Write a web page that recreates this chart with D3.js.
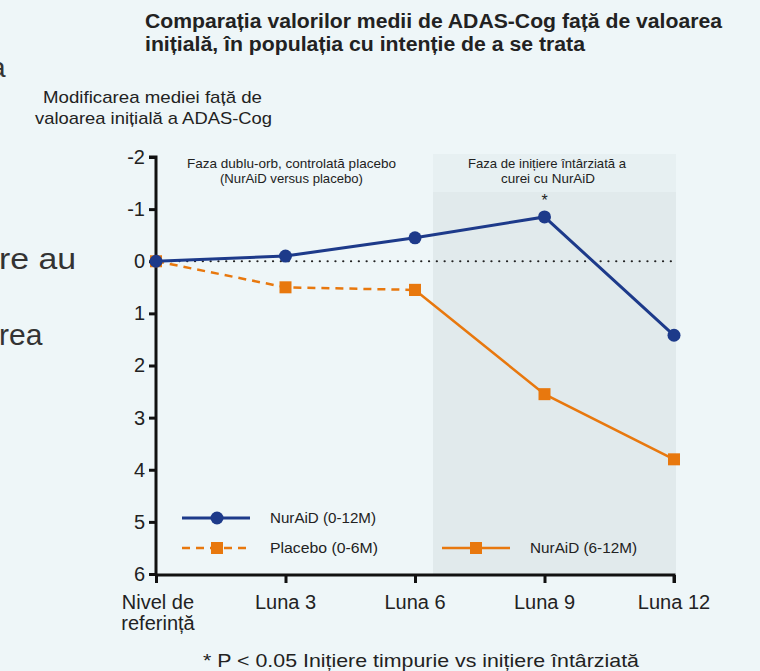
<!DOCTYPE html>
<html>
<head>
<meta charset="utf-8">
<script src="https://cdn.jsdelivr.net/npm/d3@7"></script>
<style>
  html, body { margin: 0; padding: 0; background: #eef6f8; }
  svg { display: block; font-family: "Liberation Sans", Arial, sans-serif; }
</style>
</head>
<body>
<script>
// categories and series (ADAS-Cog change from baseline; negative = improvement)
const months = ['Nivel de referință', 'Luna 3', 'Luna 6', 'Luna 9', 'Luna 12']
const nuraid012 = [0, -0.1, -0.45, -0.85, 1.42]
const placebo06 = [0, 0.5, 0.55, null, null]
const nuraid612 = [null, null, 0.55, 2.55, 3.8]
const yTicks = [-2, -1, 0, 1, 2, 3, 4, 5, 6]

const W = 760, H = 671
const x0 = 156, x1 = 674, yTop = 157, yBot = 574

const svg = d3.select('body').append('svg').attr('width', W).attr('height', H)

const x = d3.scalePoint().domain(months).range([x0, x1])
const y = d3.scaleLinear().domain([-2, 6]).range([yTop, yBot])

// helper: condensed text squeezed to a measured width
const fit = (sel, len) => sel.attr('textLength', len).attr('lengthAdjust', 'spacingAndGlyphs')

// fragments of page text cut at the left edge
svg.append('text').attr('x', -10).attr('y', 77).attr('font-size', 28).attr('fill', '#333').text('a')
fit(svg.append('text').attr('x', -1).attr('y', 269).attr('font-size', 30).attr('fill', '#333').text('re au'), 77)
svg.append('text').attr('x', -1).attr('y', 345).attr('font-size', 30).attr('fill', '#333').text('rea')
svg.append('text').attr('x', -5).attr('y', 501).attr('font-size', 24).attr('fill', '#333').text('l')

// title
const title = svg.append('text').attr('font-weight', 'bold').attr('font-size', 20).attr('fill', '#222')
fit(title.append('tspan').attr('x', 145).attr('y', 28).text('Comparația valorilor medii de ADAS-Cog față de valoarea'), 577)
fit(title.append('tspan').attr('x', 145).attr('y', 51).text('inițială, în populația cu intenție de a se trata'), 440)

// y axis label
const yl = svg.append('text').attr('font-size', 17).attr('fill', '#222')
fit(yl.append('tspan').attr('x', 43).attr('y', 103).text('Modificarea mediei față de'), 219)
fit(yl.append('tspan').attr('x', 35).attr('y', 124).text('valoarea inițială a ADAS-Cog'), 237)

// shaded delayed-start phase
const shadeX0 = x('Luna 6') + 18
svg.append('rect').attr('x', shadeX0).attr('y', 154).attr('width', x1 + 2 - shadeX0)
  .attr('height', 38).attr('fill', '#e7f0f2')
svg.append('rect').attr('x', shadeX0).attr('y', 192).attr('width', x1 + 2 - shadeX0)
  .attr('height', yBot - 192).attr('fill', '#e1eaec')

// phase headers
const ph1 = svg.append('text').attr('font-size', 13.5).attr('fill', '#222')
fit(ph1.append('tspan').attr('x', 187).attr('y', 168).text('Faza dublu-orb, controlată placebo'), 209)
fit(ph1.append('tspan').attr('x', 220).attr('y', 183).text('(NurAiD versus placebo)'), 143)
const ph2 = svg.append('text').attr('font-size', 13.5).attr('fill', '#222')
fit(ph2.append('tspan').attr('x', 468).attr('y', 168).text('Faza de inițiere întârziată a'), 158)
fit(ph2.append('tspan').attr('x', 501).attr('y', 183).text('curei cu NurAiD'), 94)

// zero reference line
svg.append('line').attr('x1', x0).attr('x2', x1).attr('y1', y(0)).attr('y2', y(0))
  .attr('stroke', '#222').attr('stroke-width', 2.2).attr('stroke-dasharray', '0.1 7.7')
  .attr('stroke-linecap', 'round')

// axes
const yAxis = svg.append('g').attr('transform', `translate(${x0},0)`)
  .call(d3.axisLeft(y).tickValues(yTicks).tickSize(7).tickFormat(d3.format('d')))
const xAxis = svg.append('g').attr('transform', `translate(0,${yBot + 1})`)
  .call(d3.axisBottom(x).tickSize(8).tickFormat(''))
;[yAxis, xAxis].forEach(g => {
  g.select('.domain').attr('stroke', '#111').attr('stroke-width', 3)
  g.selectAll('.tick line').attr('stroke', '#111').attr('stroke-width', 3)
})
yAxis.select('.domain').attr('d', `M-7,${yTop}H0V${yBot + 2}`)
xAxis.select('.domain').attr('d', `M${x0 - 1},0H${x1}V8`)
yAxis.selectAll('.tick text').attr('font-size', 20).attr('fill', '#222').attr('x', -11)
  .attr('font-family', '"Liberation Sans", Arial, sans-serif')
  .text(d => d < 0 ? '-' + Math.abs(d) : d)

// x labels
months.forEach(m => {
  const t = svg.append('text').attr('font-size', 20).attr('fill', '#222').attr('text-anchor', 'middle')
  if (m === 'Nivel de referință') {
    t.append('tspan').attr('x', x(m) + 2).attr('y', 609).text('Nivel de')
    t.append('tspan').attr('x', x(m) + 2).attr('y', 630).text('referință')
  } else {
    t.attr('x', x(m)).attr('y', 609).text(m)
  }
})

const blue = '#1d3a8a', orange = '#e8780e'
const line = d3.line().defined(d => d.v != null).x(d => x(d.m)).y(d => y(d.v))
const pts = arr => months.map((m, i) => ({ m, v: arr[i] }))

// placebo dashed
svg.append('path').datum(pts(placebo06)).attr('d', line).attr('fill', 'none')
  .attr('stroke', orange).attr('stroke-width', 2.5).attr('stroke-dasharray', '8 6')
// nuraid delayed
svg.append('path').datum(pts(nuraid612)).attr('d', line).attr('fill', 'none')
  .attr('stroke', orange).attr('stroke-width', 2.5)

const squares = pts(placebo06).concat(pts(nuraid612)).filter(d => d.v != null)
svg.selectAll('rect.sq').data(squares).enter().append('rect').attr('class', 'sq')
  .attr('x', d => x(d.m) - 6).attr('y', d => y(d.v) - 6).attr('width', 12).attr('height', 12)
  .attr('fill', orange)

// nuraid early
svg.append('path').datum(pts(nuraid012)).attr('d', line).attr('fill', 'none')
  .attr('stroke', blue).attr('stroke-width', 3)
svg.selectAll('circle.pt').data(pts(nuraid012)).enter().append('circle').attr('class', 'pt')
  .attr('cx', d => x(d.m)).attr('cy', d => y(d.v)).attr('r', 6.5).attr('fill', blue)

// significance star
svg.append('text').attr('x', x('Luna 9')).attr('y', y(-0.85) - 11).attr('text-anchor', 'middle')
  .attr('font-size', 16).attr('fill', '#222').text('*')

// legend
const lg = svg.append('g')
lg.append('line').attr('x1', 182).attr('x2', 250).attr('y1', 518).attr('y2', 518)
  .attr('stroke', blue).attr('stroke-width', 3)
lg.append('circle').attr('cx', 217).attr('cy', 518).attr('r', 6.5).attr('fill', blue)
fit(lg.append('text').attr('x', 270).attr('y', 523).attr('font-size', 15).attr('fill', '#222').text('NurAiD (0-12M)'), 106)

lg.append('line').attr('x1', 182).attr('x2', 250).attr('y1', 548).attr('y2', 548)
  .attr('stroke', orange).attr('stroke-width', 2.5).attr('stroke-dasharray', '8 6')
lg.append('rect').attr('x', 211).attr('y', 542).attr('width', 12).attr('height', 12).attr('fill', orange)
fit(lg.append('text').attr('x', 270).attr('y', 553).attr('font-size', 15).attr('fill', '#222').text('Placebo (0-6M)'), 108)

lg.append('line').attr('x1', 442).attr('x2', 510).attr('y1', 548).attr('y2', 548)
  .attr('stroke', orange).attr('stroke-width', 2.5)
lg.append('rect').attr('x', 470).attr('y', 542).attr('width', 12).attr('height', 12).attr('fill', orange)
fit(lg.append('text').attr('x', 530).attr('y', 553).attr('font-size', 15).attr('fill', '#222').text('NurAiD (6-12M)'), 107)

// footnote
fit(svg.append('text').attr('x', 203).attr('y', 667).attr('font-size', 19)
  .attr('fill', '#222').text('* P < 0.05 Inițiere timpurie vs inițiere întârziată'), 436)
</script>
</body>
</html>
